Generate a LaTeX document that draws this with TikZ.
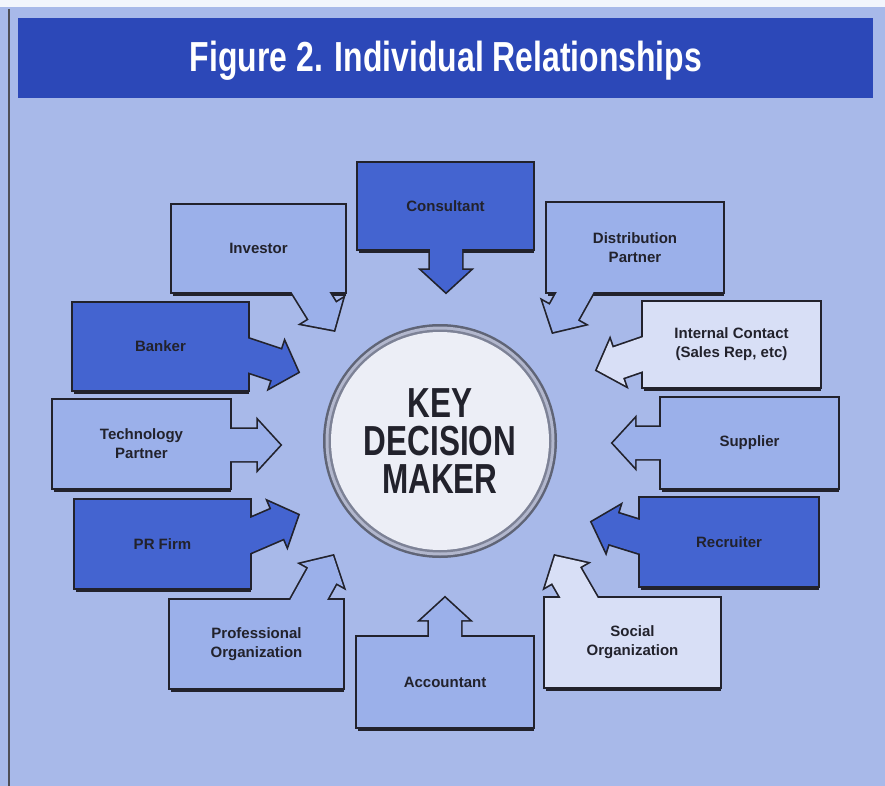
\documentclass[tikz,border=0pt]{standalone}
\usepackage{fontspec}
\setmainfont{Liberation Sans}
\usetikzlibrary{calc}
\definecolor{bg}{RGB}{168,185,233}
\definecolor{band}{RGB}{44,72,184}
\definecolor{dk}{RGB}{68,100,208}
\definecolor{lt}{RGB}{155,176,234}
\definecolor{vl}{RGB}{216,223,246}
\definecolor{ink}{RGB}{34,34,44}
\definecolor{ringdk}{RGB}{95,100,118}
\definecolor{ringlt}{RGB}{178,183,205}
\definecolor{ringmd}{RGB}{125,130,150}
\definecolor{disk}{RGB}{236,238,246}

\newcommand\arrowpath[1]{($(#1-base)!16pt!90:(#1-tip)$) -- ($(#1-h)!16pt!90:(#1-tip)$) -- ($(#1-h)!24pt!90:(#1-tip)$) -- (#1-tip) -- ($(#1-h)!24pt!-90:(#1-tip)$) -- ($(#1-h)!16pt!-90:(#1-tip)$) -- ($(#1-base)!16pt!-90:(#1-tip)$) -- cycle}

\newcommand\relbox[7]{%
  \coordinate (#1-a) at #3;
  \coordinate (#1-b) at #4;
  \coordinate (#1-base) at #5;
  \coordinate (#1-tip) at #6;
  \coordinate (#1-h) at ($(#1-tip)!22pt!(#1-base)$);
  \fill[ink] ($(#1-a)+(1,3.5)$) rectangle ($(#1-b)+(1,3.5)$);
  \draw[ink,line width=3.4pt] (#1-a) rectangle (#1-b);
  \draw[ink,line width=3.4pt] \arrowpath{#1};
  \fill[#2] (#1-a) rectangle (#1-b);
  \fill[#2] \arrowpath{#1};
  \node[lbl] (#1) at ($(#1-a)!0.5!(#1-b)$) {#7};
}

\tikzset{
  lbl/.style={font=\bfseries\fontsize{15}{19}\selectfont, text=ink, align=center, inner sep=0pt}
}

\begin{document}
\begin{tikzpicture}[x=1pt,y=-1pt]
\useasboundingbox (0,0) rectangle (885,786);
\fill[bg] (0,0) rectangle (885,786);
\fill[white!85!bg] (0,0) rectangle (885,7);
\draw[ink!80,line width=1.5pt] (9,9) -- (9,786);

% title band
\node[fill=band, minimum width=855pt, minimum height=80pt, inner sep=0pt] (titleband) at (445.5,58) {};
\node[text=white, font=\bfseries\fontsize{42}{42}\selectfont, inner sep=0pt] (title) at (446,61)
  {\resizebox{512pt}{\height}{Figure 2. Individual Relationships}};

% boxes with arrows
\relbox{consultant}{dk}{(358,163)}{(533,249)}{(446,240)}{(446,292)}{Consultant}
\relbox{investor}{lt}{(172,205)}{(345,292)}{(303,280)}{(334,330)}{Investor}
\relbox{distrib}{lt}{(547,203)}{(723,292)}{(582,280)}{(553,332)}{Distribution\\Partner}
\relbox{internal}{vl}{(643,302)}{(820,387)}{(655,350)}{(597,370)}{Internal Contact\\(Sales Rep, etc)}
\relbox{banker}{dk}{(73,303)}{(248,390)}{(238,352)}{(298,372)}{Banker}
\relbox{tech}{lt}{(53,400)}{(230,488)}{(222,445)}{(280,445)}{Technology\\Partner}
\relbox{supplier}{lt}{(661,398)}{(838,488)}{(670,443)}{(613,443)}{Supplier}
\relbox{prfirm}{dk}{(75,500)}{(250,588)}{(240,540)}{(298,515)}{PR Firm}
\relbox{recruiter}{dk}{(640,498)}{(818,586)}{(650,540)}{(592,522)}{Recruiter}
\relbox{profor}{lt}{(170,600)}{(343,688)}{(303,610)}{(333,556)}{Professional\\Organization}
\relbox{social}{vl}{(545,598)}{(720,687)}{(585,608)}{(555,556)}{Social\\Organization}
\relbox{accountant}{lt}{(357,637)}{(533,727)}{(445,645)}{(445,598)}{Accountant}

% central circle
\coordinate (kc) at (440,441);
\fill[ringdk] (kc) circle[radius=117pt];
\fill[ringlt] (kc) circle[radius=114.5pt];
\fill[ringmd] (kc) circle[radius=111.5pt];
\fill[disk] (kc) circle[radius=109pt];
\node[text=ink, font=\bfseries\fontsize{42}{38}\selectfont, align=center, inner sep=0pt,
      xscale=0.75, transform shape] (kdm) at (440,441) {KEY\\DECISION\\MAKER};
\end{tikzpicture}
\end{document}
